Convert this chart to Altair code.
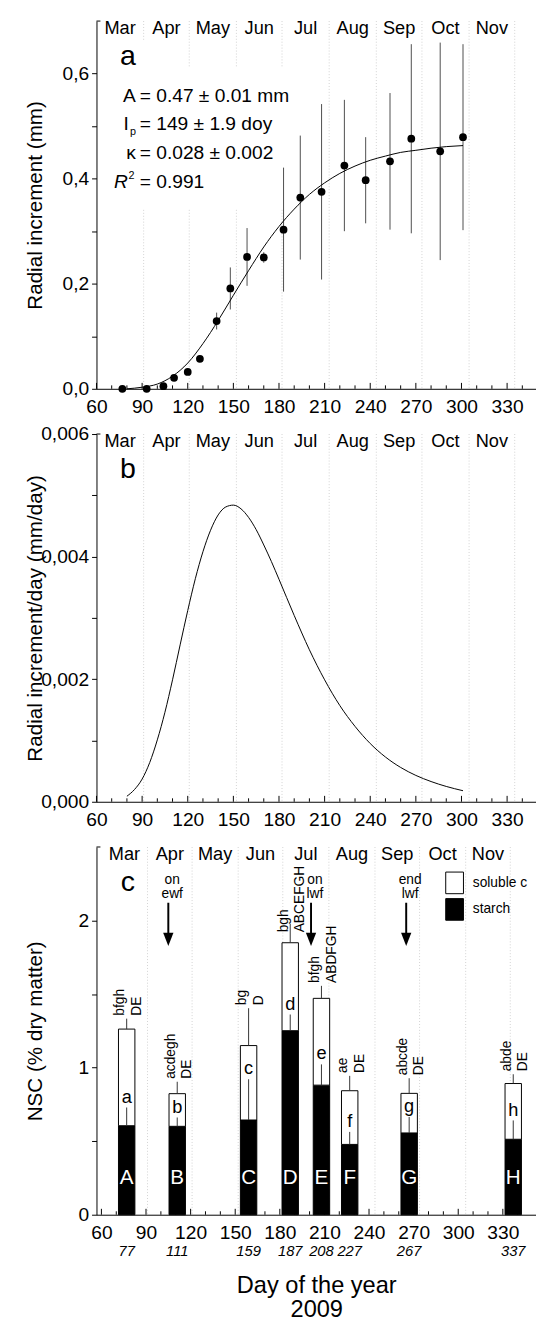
import altair as alt
import pandas as pd

FONT = "Liberation Sans"

# ---------------- data ----------------
months = ["Mar", "Apr", "May", "Jun", "Jul", "Aug", "Sep", "Oct", "Nov"]
month_mid = [75.5, 106, 136.5, 167, 197.5, 228.5, 259, 289.5, 320]
month_start = [91, 121, 152, 182, 213, 244, 274, 305, 335]

x_major = [60, 90, 120, 150, 180, 210, 240, 270, 300, 330]
x_minor = [70, 80, 100, 110, 130, 140, 160, 170, 190, 200, 220, 230,
           250, 260, 280, 290, 310, 320, 340]

# panel a: radial increment (mm)
inc_day = [77, 93, 104, 111, 120, 128, 139, 148, 159, 170, 183, 194, 208,
           223, 237, 253, 267, 286, 301]
inc_mm = [0.000, 0.000, 0.005, 0.021, 0.032, 0.057, 0.129, 0.191, 0.251,
          0.250, 0.303, 0.364, 0.375, 0.425, 0.397, 0.433, 0.476, 0.452, 0.479]
inc_err = [0.0, 0.0, 0.004, 0.0, 0.004, 0.0, 0.016, 0.040, 0.055, 0.010,
           0.118, 0.118, 0.167, 0.125, 0.082, 0.130, 0.180, 0.207, 0.177]

fit_day = [80, 90, 100, 110, 120, 130, 140, 150, 160, 170, 180, 190, 200,
           210, 220, 230, 240, 250, 260, 270, 280, 290, 301]
fit_mm = [0.000, 0.003, 0.009, 0.024, 0.049, 0.086, 0.130, 0.178, 0.225,
          0.270, 0.309, 0.342, 0.370, 0.392, 0.410, 0.424, 0.435, 0.443,
          0.450, 0.454, 0.458, 0.461, 0.463]

params_sym = ["A", "I", "κ", "R"]
params_val = ["= 0.47 ± 0.01 mm", "= 149 ± 1.9 doy", "= 0.028 ± 0.002", "= 0.991"]

# panel b: radial increment per day (mm/day)
rate_day = [80, 85, 90, 95, 100, 105, 110, 115, 120, 125, 130, 135, 140, 145,
            150, 155, 160, 165, 170, 175, 180, 190, 200, 210, 220, 230, 240,
            250, 260, 270, 280, 290, 301]
rate_mm = [0.00009, 0.00020, 0.00037, 0.00064, 0.00101, 0.00146, 0.00199,
           0.00256, 0.00312, 0.00364, 0.00408, 0.00443, 0.00468, 0.00481,
           0.00484, 0.00478, 0.00464, 0.00444, 0.00419, 0.00392, 0.00363,
           0.00304, 0.00248, 0.00199, 0.00157, 0.00123, 0.00095, 0.00073,
           0.00056, 0.00043, 0.00033, 0.00025, 0.00018]

# panel c: NSC (% dry matter)
nsc_day = [77, 111, 159, 187, 208, 227, 267, 337]
starch = [0.605, 0.601, 0.644, 1.251, 0.881, 0.478, 0.556, 0.513]
starch_err = [0.124, 0.060, 0.277, 0.110, 0.141, 0.085, 0.108, 0.128]
nsc_total = [1.262, 0.823, 1.150, 1.849, 1.471, 0.843, 0.825, 0.892]
total_err = [0.071, 0.081, 0.254, 0.129, 0.085, 0.101, 0.103, 0.063]
upper = ["A", "B", "C", "D", "E", "F", "G", "H"]
lower = ["a", "b", "c", "d", "e", "f", "g", "h"]
sig_lower = ["bfgh", "acdegh", "bg", "bgh", "bfgh", "ae", "abcde", "abde"]
sig_upper = ["DE", "DE", "D", "ABCEFGH", "ABDFGH", "DE", "DE", "DE"]
event_lab = ["on\newf", "on\nlwf", "end\nlwf"]
event_day = [105, 201, 265]
components = ["soluble c", "starch"]

# ---------------- tables ----------------
W, H = 447, 374
one = pd.DataFrame({"k": [0]})
df_month = pd.DataFrame({"m": months, "d": month_mid})
df_grid = pd.DataFrame({"d": month_start})
df_major = pd.DataFrame({"d": x_major})
df_minor = pd.DataFrame({"d": x_minor})
df_inc = pd.DataFrame({"d": inc_day, "v": inc_mm,
                       "lo": [v - e for v, e in zip(inc_mm, inc_err)],
                       "hi": [v + e for v, e in zip(inc_mm, inc_err)]})
df_fit = pd.DataFrame({"d": fit_day, "v": fit_mm})
df_rate = pd.DataFrame({"d": rate_day, "v": rate_mm})

bar_rows = []
for d, s, t in zip(nsc_day, starch, nsc_total):
    bar_rows.append({"d": d, "comp": "starch", "lo": 0.0, "hi": s})
    bar_rows.append({"d": d, "comp": "soluble c", "lo": s, "hi": t})
df_bar = pd.DataFrame(bar_rows)
df_nsc = pd.DataFrame({
    "d": nsc_day, "s": starch, "t": nsc_total,
    "s_hi": [a + b for a, b in zip(starch, starch_err)],
    "t_hi": [a + b for a, b in zip(nsc_total, total_err)],
    "up": upper, "low": lower,
    "sig": [a + "\n" + b for a, b in zip(sig_lower, sig_upper)],
    "lab": [str(d) for d in nsc_day],
})
df_event = pd.DataFrame({"d": event_day, "lab": event_lab})

XS = alt.Scale(domain=[60, 349], nice=False, zero=False)


def xaxis(title=None, tpad=0):
    kw = dict(values=x_major, format="d", ticks=False, tickSize=0,
              labelPadding=9.5, grid=False, labelFlush=False)
    if title is not None:
        kw.update(titlePadding=tpad, titleFontSize=24, titleLineHeight=24)
    return alt.Axis(**kw)


def X(field, title=None, tpad=0):
    return alt.X(f"{field}:Q", scale=XS, axis=xaxis(title, tpad), title=title)


def yaxis(values, expr):
    return alt.Axis(values=values, labelExpr=expr, tickSize=5, labelPadding=3,
                    grid=False, titleX=-62, titleY=H / 2, titleAngle=270,
                    titleAlign="center", titleBaseline="middle")


def Y(field, domain, values, expr, title):
    return alt.Y(f"{field}:Q", scale=alt.Scale(domain=domain, nice=False, zero=True),
                 axis=yaxis(values, expr), title=title)


def common_layers(xf):
    grid = alt.Chart(df_grid).mark_rule(color="#d2d2d2", strokeWidth=1,
                                        strokeDash=[1, 2]).encode(x=xf("d"))
    mon = alt.Chart(df_month).mark_text(fontSize=18.5, baseline="alphabetic",
                                        align="center", color="black").encode(
        x=xf("d"), y=alt.value(13), text="m:N")
    tmaj = alt.Chart(df_major).mark_rule(color="black").encode(
        x=xf("d"), y=alt.value(H), y2=alt.value(H - 6))
    tmin = alt.Chart(df_minor).mark_rule(color="black").encode(
        x=xf("d"), y=alt.value(H), y2=alt.value(H - 3.5))
    stub = alt.Chart(one).mark_rule(color="black").encode(
        x=alt.value(0), x2=alt.value(4), y=alt.value(0))
    return grid, mon, tmaj, tmin, stub


def panel_letter(ch):
    return alt.Chart(one).mark_text(text=ch, fontSize=29, align="center",
                                    baseline="alphabetic", color="black").encode(
        x=alt.value(32), y=alt.value(45))


# ---------------- panel a ----------------
Ya = lambda f: Y(f, [0, 0.7], [0, 0.1, 0.2, 0.3, 0.4, 0.5, 0.6],
                 "round(datum.value*10)%2==0 ? replace(format(datum.value,'.1f'),'.',',') : ''",
                 "Radial increment (mm)")
Xa = lambda f: X(f)
g, mon, tmaj, tmin, stub = common_layers(Xa)
box1 = alt.Chart(one).mark_rect(color="white").encode(
    x=alt.value(15), x2=alt.value(205), y=alt.value(47), y2=alt.value(190))
box2 = alt.Chart(one).mark_rect(color="white").encode(
    x=alt.value(18), x2=alt.value(50), y=alt.value(20), y2=alt.value(50))
err_a = alt.Chart(df_inc).mark_rule(color="#4d4d4d", strokeWidth=1).encode(
    x=Xa("d"), y=Ya("lo"), y2="hi:Q")
fit_a = alt.Chart(df_fit).mark_line(color="black", strokeWidth=1,
                                    interpolate="monotone").encode(x=Xa("d"), y=Ya("v"))
pts_a = alt.Chart(df_inc).mark_circle(size=62, color="black", opacity=1).encode(
    x=Xa("d"), y=Ya("v"))

txt_layers = []
base_y = [82.7, 111, 140.7, 170]
for i, s in enumerate(params_val):
    txt_layers.append(alt.Chart(one).mark_text(text=s, fontSize=19.5, align="left",
                                               baseline="alphabetic", color="black").encode(
        x=alt.value(44), y=alt.value(base_y[i])))
sym_x = [40, 33, 40, 32]
for i, s in enumerate(params_sym):
    kw = dict(text=s, fontSize=19.5, align="right", baseline="alphabetic", color="black")
    if s == "R":
        kw["fontStyle"] = "italic"
    txt_layers.append(alt.Chart(one).mark_text(**kw).encode(
        x=alt.value(sym_x[i]), y=alt.value(base_y[i])))
txt_layers.append(alt.Chart(one).mark_text(text="p", fontSize=11, align="left",
                                           baseline="alphabetic", color="black").encode(
    x=alt.value(34), y=alt.value(116)))
txt_layers.append(alt.Chart(one).mark_text(text="2", fontSize=11, align="left",
                                           baseline="alphabetic", color="black").encode(
    x=alt.value(32.5), y=alt.value(161)))

pa = alt.layer(g, box1, box2, tmaj, tmin, stub, err_a, fit_a, pts_a, mon,
               panel_letter("a"), *txt_layers).properties(width=W, height=H)

# ---------------- panel b ----------------
Yb = lambda f: Y(f, [0, 0.006], [0, 0.001, 0.002, 0.003, 0.004, 0.005, 0.006],
                 "round(datum.value*1000)%2==0 ? replace(format(datum.value,'.3f'),'.',',') : ''",
                 "Radial increment/day (mm/day)")
Xb = lambda f: X(f)
g, mon, tmaj, tmin, stub = common_layers(Xb)
line_b = alt.Chart(df_rate).mark_line(color="black", strokeWidth=1,
                                      interpolate="monotone").encode(x=Xb("d"), y=Yb("v"))
pb = alt.layer(g, tmaj, tmin, stub, line_b, mon, panel_letter("b")).properties(width=W, height=H)

# ---------------- panel c ----------------
Yc = lambda f: Y(f, [0, 2.5], [0, 0.5, 1, 1.5, 2],
                 "datum.value%1==0 ? format(datum.value,'d') : ''",
                 "NSC (% dry matter)")
Xc = lambda f: X(f, ["Day of the year", "2009"], 32.5)
g, mon, tmaj, tmin, stub = common_layers(Xc)
bars = alt.Chart(df_bar).mark_bar(size=16.7, stroke="black", strokeWidth=1).encode(
    x=Xc("d"), y=Yc("lo"), y2="hi:Q",
    color=alt.Color("comp:N", scale=alt.Scale(domain=components, range=["white", "black"]),
                    legend=alt.Legend(orient="none", legendX=352.7, legendY=25, title=None,
                                      symbolType="M-0.82,-1H0.82V1H-0.82Z", symbolSize=484,
                                      symbolStrokeColor="black", symbolStrokeWidth=1,
                                      symbolOpacity=1, labelFontSize=14, labelFont=FONT,
                                      labelColor="black", labelOffset=7, rowPadding=0,
                                      padding=0)))
err_s = alt.Chart(df_nsc).mark_rule(color="#333333", strokeWidth=1).encode(
    x=Xc("d"), y=Yc("s"), y2="s_hi:Q")
err_t = alt.Chart(df_nsc).mark_rule(color="#333333", strokeWidth=1).encode(
    x=Xc("d"), y=Yc("t"), y2="t_hi:Q")
low_t = alt.Chart(df_nsc).mark_text(fontSize=18.5, baseline="alphabetic", dy=-5,
                                    color="black").encode(x=Xc("d"), y=Yc("s_hi"), text="low:N")
up_t = alt.Chart(df_nsc).mark_text(fontSize=21, baseline="alphabetic",
                                   color="white").encode(x=Xc("d"), y=alt.value(342.5), text="up:N")
sig_t = alt.Chart(df_nsc).transform_calculate(
    ty="min(datum.t_hi, 1.90)"
).mark_text(fontSize=14, angle=270, align="left", baseline="middle",
            lineBreak="\n", lineHeight=17, dx=3, dy=-6.5,
            color="black").encode(x=Xc("d"), y=Yc("ty"), text="sig:N")
date_t = alt.Chart(df_nsc).mark_text(fontSize=15, fontStyle="italic", baseline="middle",
                                     color="black").encode(x=Xc("d"), y=alt.value(H + 37), text="lab:N")
shaft = alt.Chart(df_event).mark_rule(color="black", strokeWidth=2).encode(
    x=Xc("d"), y=alt.value(56.7), y2=alt.value(89))
head = alt.Chart(df_event).mark_point(shape="M-0.78,-1L0.78,-1L0,1Z", size=180, filled=True,
                                      color="black", opacity=1).encode(x=Xc("d"), y=alt.value(94))
ev_t = alt.Chart(df_event).mark_text(fontSize=14, lineBreak="\n", lineHeight=14.5,
                                     baseline="alphabetic", align="center", dx=4,
                                     color="black").encode(x=Xc("d"), y=alt.value(37.3), text="lab:N")

pc = alt.layer(g, tmaj, tmin, stub, bars, err_s, err_t, low_t, up_t, sig_t, date_t,
               shaft, head, ev_t, mon, panel_letter("c")).properties(width=W, height=H)

chart = alt.vconcat(pa, pb, pc, spacing=46, bounds="flush").resolve_scale(
    color="independent").properties(
    padding={"left": 16, "top": 0, "right": 0, "bottom": 0}
).configure_axis(
    labelFont=FONT, titleFont=FONT, labelFontSize=19.5, titleFontSize=21,
    labelColor="black", titleColor="black", domainColor="black", tickColor="black",
    titleFontWeight="normal", domainWidth=1, tickWidth=1
).configure_view(stroke=None).configure_text(font=FONT)

chart.save("out.html", embed_options={"renderer": "svg", "actions": False})
